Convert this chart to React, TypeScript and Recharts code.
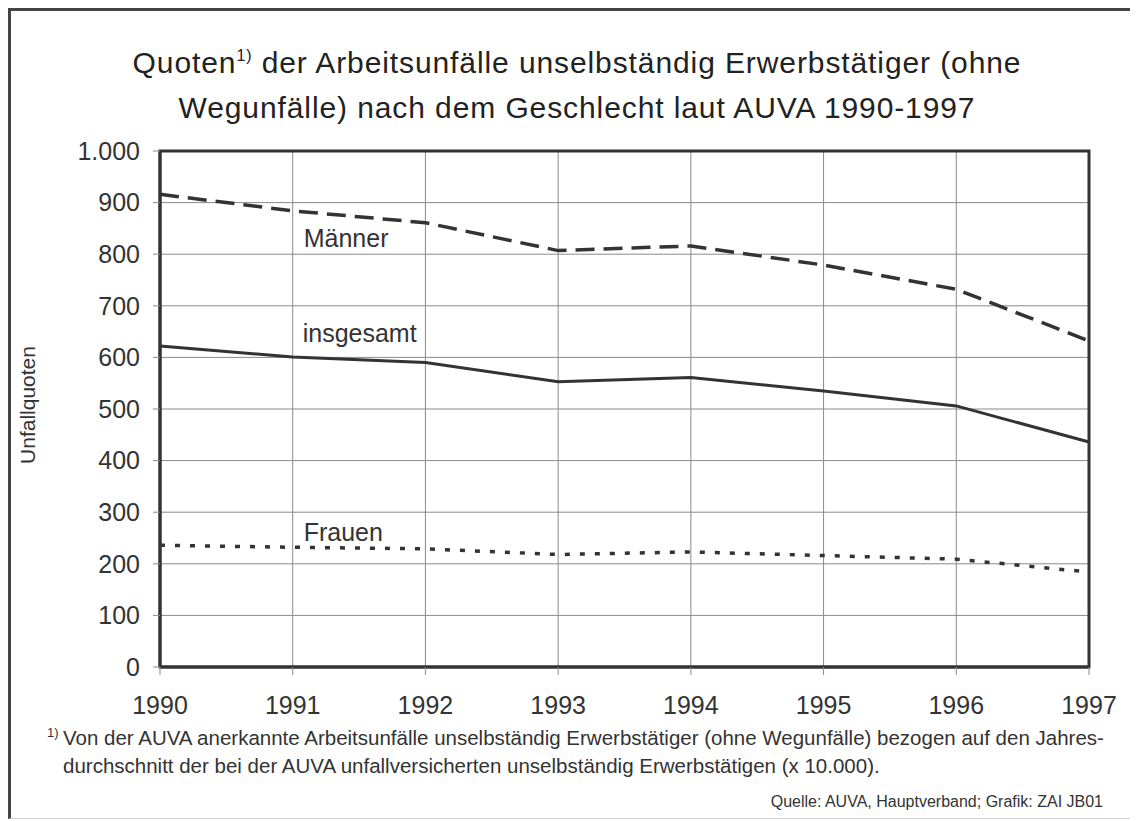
import { LineChart, Line, XAxis, YAxis, CartesianGrid, ReferenceArea } from 'recharts'

const years = ['1990', '1991', '1992', '1993', '1994', '1995', '1996', '1997']
const maenner = [916, 884, 861, 807, 816, 779, 732, 632]
const insgesamt = [622, 601, 590, 553, 561, 535, 506, 436]
const frauen = [236, 232, 229, 218, 223, 216, 209, 184]
const yTicks = [0, 100, 200, 300, 400, 500, 600, 700, 800, 900, 1000]

const FONT = '"Liberation Sans", Arial, Helvetica, sans-serif'
const INK = '#333'
const GRID = '#8a8a8a'

const data = years.map((year, i) => ({
  year,
  maenner: maenner[i],
  insgesamt: insgesamt[i],
  frauen: frauen[i],
}))

const fmtThousands = (v: number) => String(v).replace(/\B(?=(\d{3})+(?!\d))/g, '.')

// draws the series name next to the 1991 point
function seriesLabel(text: string, dx: number, dy: number) {
  return (props: any) => {
    if (props.index !== 1) return <g />
    return (
      <text x={props.x + dx} y={props.y + dy} fill={INK} fontSize={25} fontFamily={FONT}>
        {text}
      </text>
    )
  }
}

export default function App() {
  return (
    <div style={{ position: 'relative', width: 1126, height: 811, fontFamily: FONT, color: INK, background: '#fff' }}>
      <div
        style={{
          position: 'absolute',
          inset: 0,
          borderLeft: '3px solid #444',
          borderTop: '3px solid #444',
          borderRight: '1px solid #d0d0d0',
          borderBottom: '1px solid #d0d0d0',
          pointerEvents: 'none',
        }}
      />

      <div
        style={{
          position: 'absolute',
          left: 69,
          top: 35,
          width: 1000,
          textAlign: 'center',
          fontSize: 30,
          letterSpacing: 0.9,
          lineHeight: '40px',
          color: '#222',
        }}
      >
        Quoten
        <span style={{ fontSize: 16, position: 'relative', top: -12 }}>1)</span> der Arbeitsunfälle unselbständig
        Erwerbstätiger (ohne
        <br />
        Wegunfälle) nach dem Geschlecht laut AUVA 1990-1997
      </div>

      <div
        style={{
          position: 'absolute',
          left: 20,
          top: 397,
          transform: 'translate(-50%, -50%) rotate(-90deg)',
          whiteSpace: 'nowrap',
          fontSize: 21,
        }}
      >
        Unfallquoten
      </div>

      <div style={{ position: 'absolute', left: 0, top: 0 }}>
        <LineChart
          width={1126}
          height={811}
          data={data}
          margin={{ top: 143, right: 45, bottom: 92, left: 0 }}
        >
          <CartesianGrid stroke={GRID} strokeWidth={1} />
          <XAxis
            dataKey="year"
            axisLine={{ stroke: INK, strokeWidth: 3 }}
            tickLine={{ stroke: GRID }}
            tickSize={8}
            tickMargin={21}
            height={60}
            interval={0}
            tick={{ fill: INK, fontSize: 25, fontFamily: FONT }}
          />
          <YAxis
            width={152}
            domain={[0, 1000]}
            ticks={yTicks}
            tickFormatter={fmtThousands}
            axisLine={{ stroke: INK, strokeWidth: 3 }}
            tickLine={{ stroke: GRID }}
            tickSize={7}
            tickMargin={13}
            tick={{ fill: INK, fontSize: 25, fontFamily: FONT }}
          />
          <ReferenceArea
            x1="1990"
            x2="1997"
            y1={0}
            y2={1000}
            fill="none"
            fillOpacity={0}
            stroke={INK}
            strokeWidth={3}
            ifOverflow="visible"
          />
          <Line
            dataKey="maenner"
            stroke={INK}
            strokeWidth={3.5}
            strokeDasharray="19 9"
            dot={false}
            isAnimationActive={false}
            label={seriesLabel('Männer', 11, 36)}
          />
          <Line
            dataKey="insgesamt"
            stroke={INK}
            strokeWidth={3}
            dot={false}
            isAnimationActive={false}
            label={seriesLabel('insgesamt', 10, -15)}
          />
          <Line
            dataKey="frauen"
            stroke={INK}
            strokeWidth={3.5}
            strokeDasharray="5 10"
            dot={false}
            isAnimationActive={false}
            label={seriesLabel('Frauen', 11, -6)}
          />
        </LineChart>
      </div>

      <div style={{ position: 'absolute', left: 39, top: 716, fontSize: 20.5, lineHeight: '28px', whiteSpace: 'nowrap' }}>
        <div style={{ position: 'relative', paddingLeft: 16 }}>
          <span style={{ position: 'absolute', left: 0, top: -5, fontSize: 13 }}>1)</span>
          Von der AUVA anerkannte Arbeitsunfälle unselbständig Erwerbstätiger (ohne Wegunfälle) bezogen auf den Jahres-
        </div>
        <div style={{ paddingLeft: 16 }}>
          durchschnitt der bei der AUVA unfallversicherten unselbständig Erwerbstätigen (x 10.000).
        </div>
      </div>

      <div
        style={{
          position: 'absolute',
          right: 31,
          top: 786,
          fontSize: 16,
          lineHeight: '16px',
          whiteSpace: 'nowrap',
        }}
      >
        Quelle: AUVA, Hauptverband; Grafik: ZAI JB01
      </div>
    </div>
  )
}
